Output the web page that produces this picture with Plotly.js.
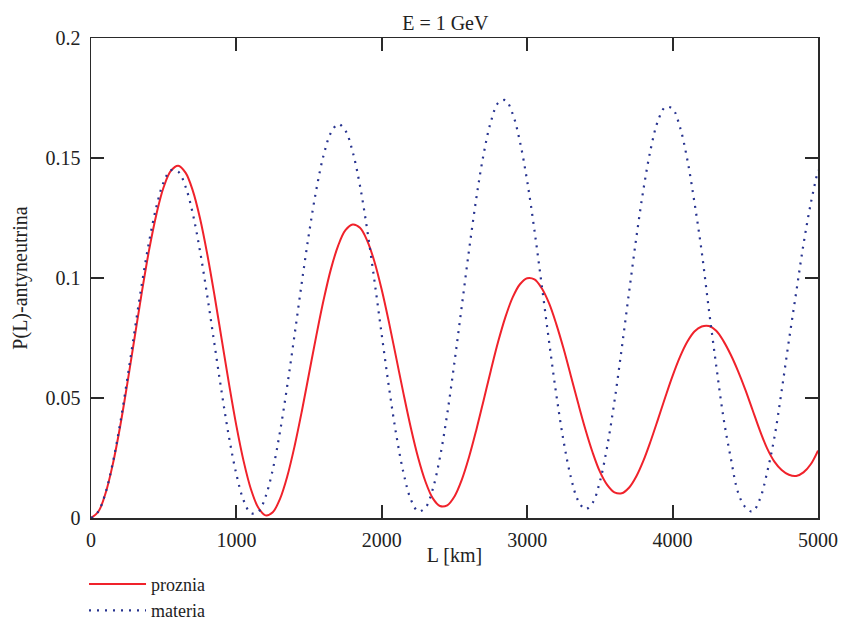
<!DOCTYPE html>
<html>
<head>
<meta charset="utf-8">
<script src="https://cdn.plot.ly/plotly-3.0.1.min.js"></script>
<style>html,body{margin:0;padding:0;background:#fff}#chart{width:845px;height:621px}</style>
</head>
<body>
<div id="chart"></div>
<script>
// L [km]
var distanceKm = [0,50,100,150,200,250,300,350,400,450,500,550,600,650,700,750,800,850,900,950,1000,1050,1100,1150,1200,1250,1300,1350,1400,1450,1500,1550,1600,1650,1700,1750,1800,1850,1900,1950,2000,2050,2100,2150,2200,2250,2300,2350,2400,2450,2500,2550,2600,2650,2700,2750,2800,2850,2900,2950,3000,3050,3100,3150,3200,3250,3300,3350,3400,3450,3500,3550,3600,3650,3700,3750,3800,3850,3900,3950,4000,4050,4100,4150,4200,4250,4300,4350,4400,4450,4500,4550,4600,4650,4700,4750,4800,4850,4900,4950,5000];
// proznia (vacuum)
var prozniaValues = [0,0.0026,0.0103,0.0224,0.0380,0.0561,0.0752,0.0942,0.1118,0.1266,0.1379,0.1447,0.1468,0.1439,0.1364,0.1248,0.1098,0.0925,0.0740,0.0556,0.0384,0.0236,0.0120,0.0044,0.0011,0.0024,0.0080,0.0174,0.0299,0.0445,0.0603,0.0761,0.0909,0.1037,0.1135,0.1199,0.1223,0.1209,0.1155,0.1067,0.0950,0.0813,0.0665,0.0516,0.0375,0.0251,0.0152,0.0083,0.0050,0.0053,0.0090,0.0159,0.0254,0.0367,0.0490,0.0615,0.0734,0.0837,0.0919,0.0974,0.0999,0.0994,0.0957,0.0895,0.0808,0.0706,0.0593,0.0479,0.0370,0.0273,0.0193,0.0138,0.0107,0.0103,0.0126,0.0173,0.0240,0.0322,0.0412,0.0504,0.0592,0.0670,0.0733,0.0777,0.0798,0.0800,0.0780,0.0737,0.0680,0.0612,0.0535,0.0450,0.0365,0.0290,0.0235,0.0200,0.0180,0.0175,0.0190,0.0224,0.0281];
// materia (matter)
var materiaValues = [0,0.0027,0.0105,0.0230,0.0392,0.0581,0.0780,0.0976,0.1153,0.1298,0.1400,0.1449,0.1443,0.1381,0.1268,0.1111,0.0924,0.0721,0.0519,0.0334,0.0182,0.0073,0.0020,0.0025,0.0088,0.0201,0.0360,0.0552,0.0763,0.0982,0.1188,0.1369,0.1512,0.1605,0.1641,0.1614,0.1525,0.1384,0.1199,0.0986,0.0761,0.0542,0.0345,0.0186,0.0077,0.0028,0.0043,0.0119,0.0253,0.0434,0.0650,0.0882,0.1116,0.1332,0.1515,0.1651,0.1729,0.1741,0.1684,0.1568,0.1403,0.1198,0.0970,0.0737,0.0515,0.0321,0.0171,0.0073,0.0037,0.0063,0.0152,0.0297,0.0486,0.0706,0.0938,0.1166,0.1371,0.1539,0.1656,0.1712,0.1705,0.1630,0.1497,0.1316,0.1110,0.0866,0.0635,0.0417,0.0250,0.0107,0.0045,0.0027,0.0078,0.0190,0.0335,0.0530,0.0740,0.0940,0.1140,0.1310,0.1450];
var seriesNames = ['proznia','materia'];
var xTickVals = [0,1000,2000,3000,4000,5000];
var yTickVals = [0,0.05,0.1,0.15,0.2];
var yTickText = ['0','0.05','0.1','0.15','0.2'];

var serif = 'Liberation Serif, Times New Roman, serif';
var axisCommon = {
  showgrid:false, zeroline:false, showline:true, linecolor:'#2a2a2a', linewidth:1.5,
  mirror:'ticks', ticks:'inside', ticklen:13, tickwidth:2, tickcolor:'#2a2a2a',
  tickfont:{family:serif, size:20, color:'#222'}
};

var traces = [
  {x:distanceKm, y:prozniaValues, name:seriesNames[0], type:'scatter', mode:'lines',
   line:{color:'#f0222b', width:2, shape:'spline', smoothing:1}},
  {x:distanceKm, y:materiaValues, name:seriesNames[1], type:'scatter', mode:'lines',
   line:{color:'#27338f', width:2.2, dash:'2px,6px', shape:'spline', smoothing:1}}
];

var layout = {
  width:845, height:621,
  margin:{l:91, r:27, t:38, b:103},
  paper_bgcolor:'#fff', plot_bgcolor:'#fff',
  title:{text:'E = 1 GeV', font:{family:serif, size:20, color:'#222'}, x:0.527, xanchor:'center', y:0.963, yanchor:'middle'},
  xaxis:Object.assign({}, axisCommon, {
    range:[0,5000], tickvals:xTickVals, ticklabelstandoff:3,
    title:{text:'L [km]', font:{family:serif, size:20, color:'#222'}, standoff:10}
  }),
  yaxis:Object.assign({}, axisCommon, {
    range:[0,0.2], tickvals:yTickVals, ticktext:yTickText, ticklabelstandoff:5,
    title:{text:'P(L)-antyneutrina', font:{family:serif, size:20, color:'#222'}, standoff:12}
  }),
  showlegend:true,
  legend:{xref:'paper', yref:'container', x:-0.0096, xanchor:'left', y:0.089, yanchor:'top', orientation:'v',
    font:{family:serif, size:18, color:'#222'}, bgcolor:'rgba(0,0,0,0)', itemwidth:57}
};

Plotly.newPlot('chart', traces, layout, {displayModeBar:false, staticPlot:true});
</script>
</body>
</html>
